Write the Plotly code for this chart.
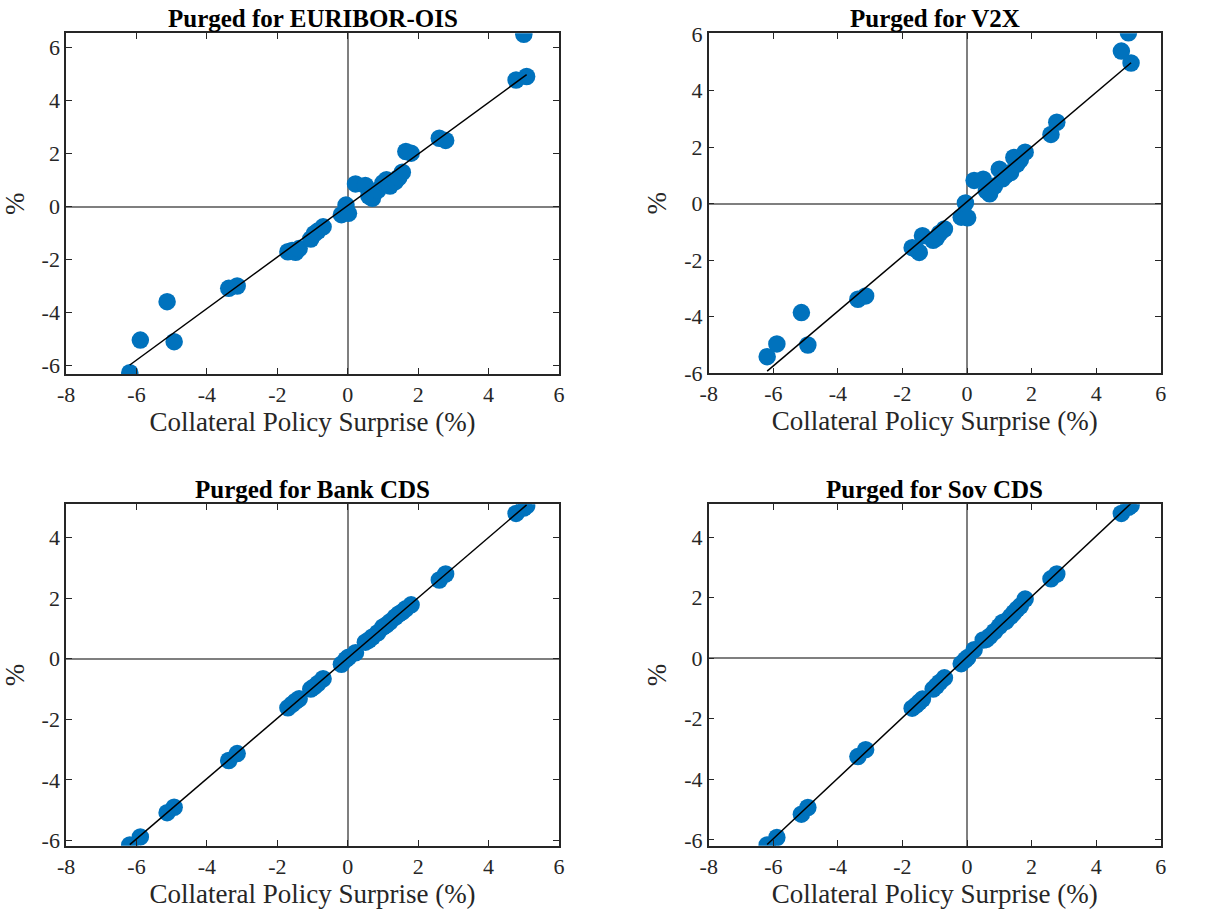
import numpy as np
import plotly.graph_objects as go

# Collateral policy surprise (%), common x values
surprise = [-6.19, -5.89, -5.13, -4.93, -3.38, -3.14, -1.70, -1.58, -1.48, -1.38,
            -1.05, -0.95, -0.85, -0.70, -0.18, -0.05, 0.02, 0.22, 0.50, 0.60,
            0.70, 0.85, 1.00, 1.10, 1.20, 1.35, 1.45, 1.55, 1.65, 1.80,
            2.60, 2.78, 4.78, 5.00, 5.08]

purged_euribor_ois = [-6.26, -5.03, -3.58, -5.09, -3.08, -2.99, -1.70, -1.65, -1.72, -1.58,
                      -1.22, -1.02, -0.92, -0.76, -0.30, 0.06, -0.25, 0.86, 0.80, 0.40,
                      0.32, 0.62, 0.90, 1.02, 0.78, 0.95, 1.10, 1.30, 2.08, 2.02,
                      2.58, 2.50, 4.78, 6.50, 4.91]

purged_v2x = [-5.42, -4.97, -3.86, -5.01, -3.39, -3.27, -1.56, -1.62, -1.73, -1.14,
              -1.30, -1.22, -1.05, -0.90, -0.48, 0.02, -0.50, 0.82, 0.86, 0.45,
              0.35, 0.62, 1.22, 0.88, 1.00, 1.10, 1.63, 1.40, 1.55, 1.82,
              2.45, 2.88, 5.40, 6.05, 4.98]

purged_bank_cds = [-6.15, -5.88, -5.08, -4.90, -3.36, -3.13, -1.62, -1.50, -1.40, -1.32,
                   -1.00, -0.92, -0.82, -0.66, -0.18, -0.02, 0.05, 0.20, 0.55, 0.62,
                   0.72, 0.86, 1.05, 1.12, 1.22, 1.38, 1.48, 1.55, 1.65, 1.78,
                   2.60, 2.80, 4.80, 4.98, 5.05]

purged_sov_cds = [-6.17, -5.92, -5.15, -4.93, -3.25, -3.02, -1.65, -1.55, -1.45, -1.35,
                  -1.02, -0.92, -0.80, -0.65, -0.18, -0.05, 0.02, 0.28, 0.60, 0.62,
                  0.72, 0.88, 1.05, 1.18, 1.22, 1.38, 1.50, 1.62, 1.72, 1.95,
                  2.62, 2.78, 4.78, 4.98, 5.05]

titles = ["Purged for EURIBOR-OIS", "Purged for V2X", "Purged for Bank CDS", "Purged for Sov CDS"]
series = [purged_euribor_ois, purged_v2x, purged_bank_cds, purged_sov_cds]
x_ticks = [-8, -6, -4, -2, 0, 2, 4, 6]
x_tick_labels = ["-8", "-6", "-4", "-2", "0", "2", "4", "6"]
y_ticks = [-6, -4, -2, 0, 2, 4, 6]
y_tick_labels = ["-6", "-4", "-2", "0", "2", "4", "6"]

x_domains = [[0.0540, 0.4571], [0.5795, 0.9491], [0.0540, 0.4571], [0.5795, 0.9491]]
y_domains = [[0.5890, 0.9634], [0.5898, 0.9634], [0.0707, 0.4458], [0.0707, 0.4458]]
y_ranges = [[-6.31, 6.54], [-6.01, 6.03], [-6.17, 5.10], [-6.19, 5.08]]

FONT = "Liberation Serif"
AXC = "#262626"
BLUE = "#0072BD"

fig = go.Figure()
layout = dict(width=1223, height=910, margin=dict(l=0, r=0, t=0, b=0),
              paper_bgcolor="white", plot_bgcolor="white", showlegend=False,
              font=dict(family=FONT, size=22, color=AXC))
annotations = []
for i, (title, ys) in enumerate(zip(titles, series)):
    n = "" if i == 0 else str(i + 1)
    xs = np.array(surprise)
    yv = np.array(ys)
    fig.add_trace(go.Scatter(x=xs, y=yv, mode="markers",
                             marker=dict(color=BLUE, size=17.5, line=dict(width=0)),
                             xaxis="x" + n, yaxis="y" + n, hoverinfo="skip"))
    b, a = np.polyfit(xs, yv, 1)
    xl = np.array([xs.min(), xs.max()])
    fig.add_trace(go.Scatter(x=xl, y=a + b * xl, mode="lines",
                             line=dict(color="black", width=1.5),
                             xaxis="x" + n, yaxis="y" + n, hoverinfo="skip"))
    axis_common = dict(showline=True, linecolor=AXC, linewidth=1.5, mirror="ticks",
                       ticks="inside", ticklen=6, tickwidth=1.2, tickcolor=AXC,
                       showgrid=False, zeroline=True, zerolinecolor="#7f7f7f",
                       zerolinewidth=1.5, automargin=False,
                       tickfont=dict(family=FONT, size=22, color=AXC))
    layout["xaxis" + n] = dict(axis_common, domain=x_domains[i], range=[-8, 6],
                               tickvals=x_ticks, ticktext=x_tick_labels, anchor="y" + n,
                               title=dict(text="Collateral Policy Surprise (%)",
                                          font=dict(family=FONT, size=27, color=AXC),
                                          standoff=4))
    layout["yaxis" + n] = dict(axis_common, domain=y_domains[i], range=y_ranges[i],
                               tickvals=y_ticks, ticktext=y_tick_labels, anchor="x" + n,
                               title=dict(text="%", font=dict(family=FONT, size=27, color=AXC),
                                          standoff=10))
    annotations.append(dict(text="<b>" + title + "</b>", xref="paper", yref="paper",
                            x=sum(x_domains[i]) / 2, y=y_domains[i][1], yanchor="bottom",
                            xanchor="center", showarrow=False, yshift=-1,
                            font=dict(family=FONT, size=25, color="black")))
layout["annotations"] = annotations
fig.update_layout(**layout)
fig.write_html("out.html", config={"displayModeBar": False},
               post_script="document.body.style.margin='0px';")
